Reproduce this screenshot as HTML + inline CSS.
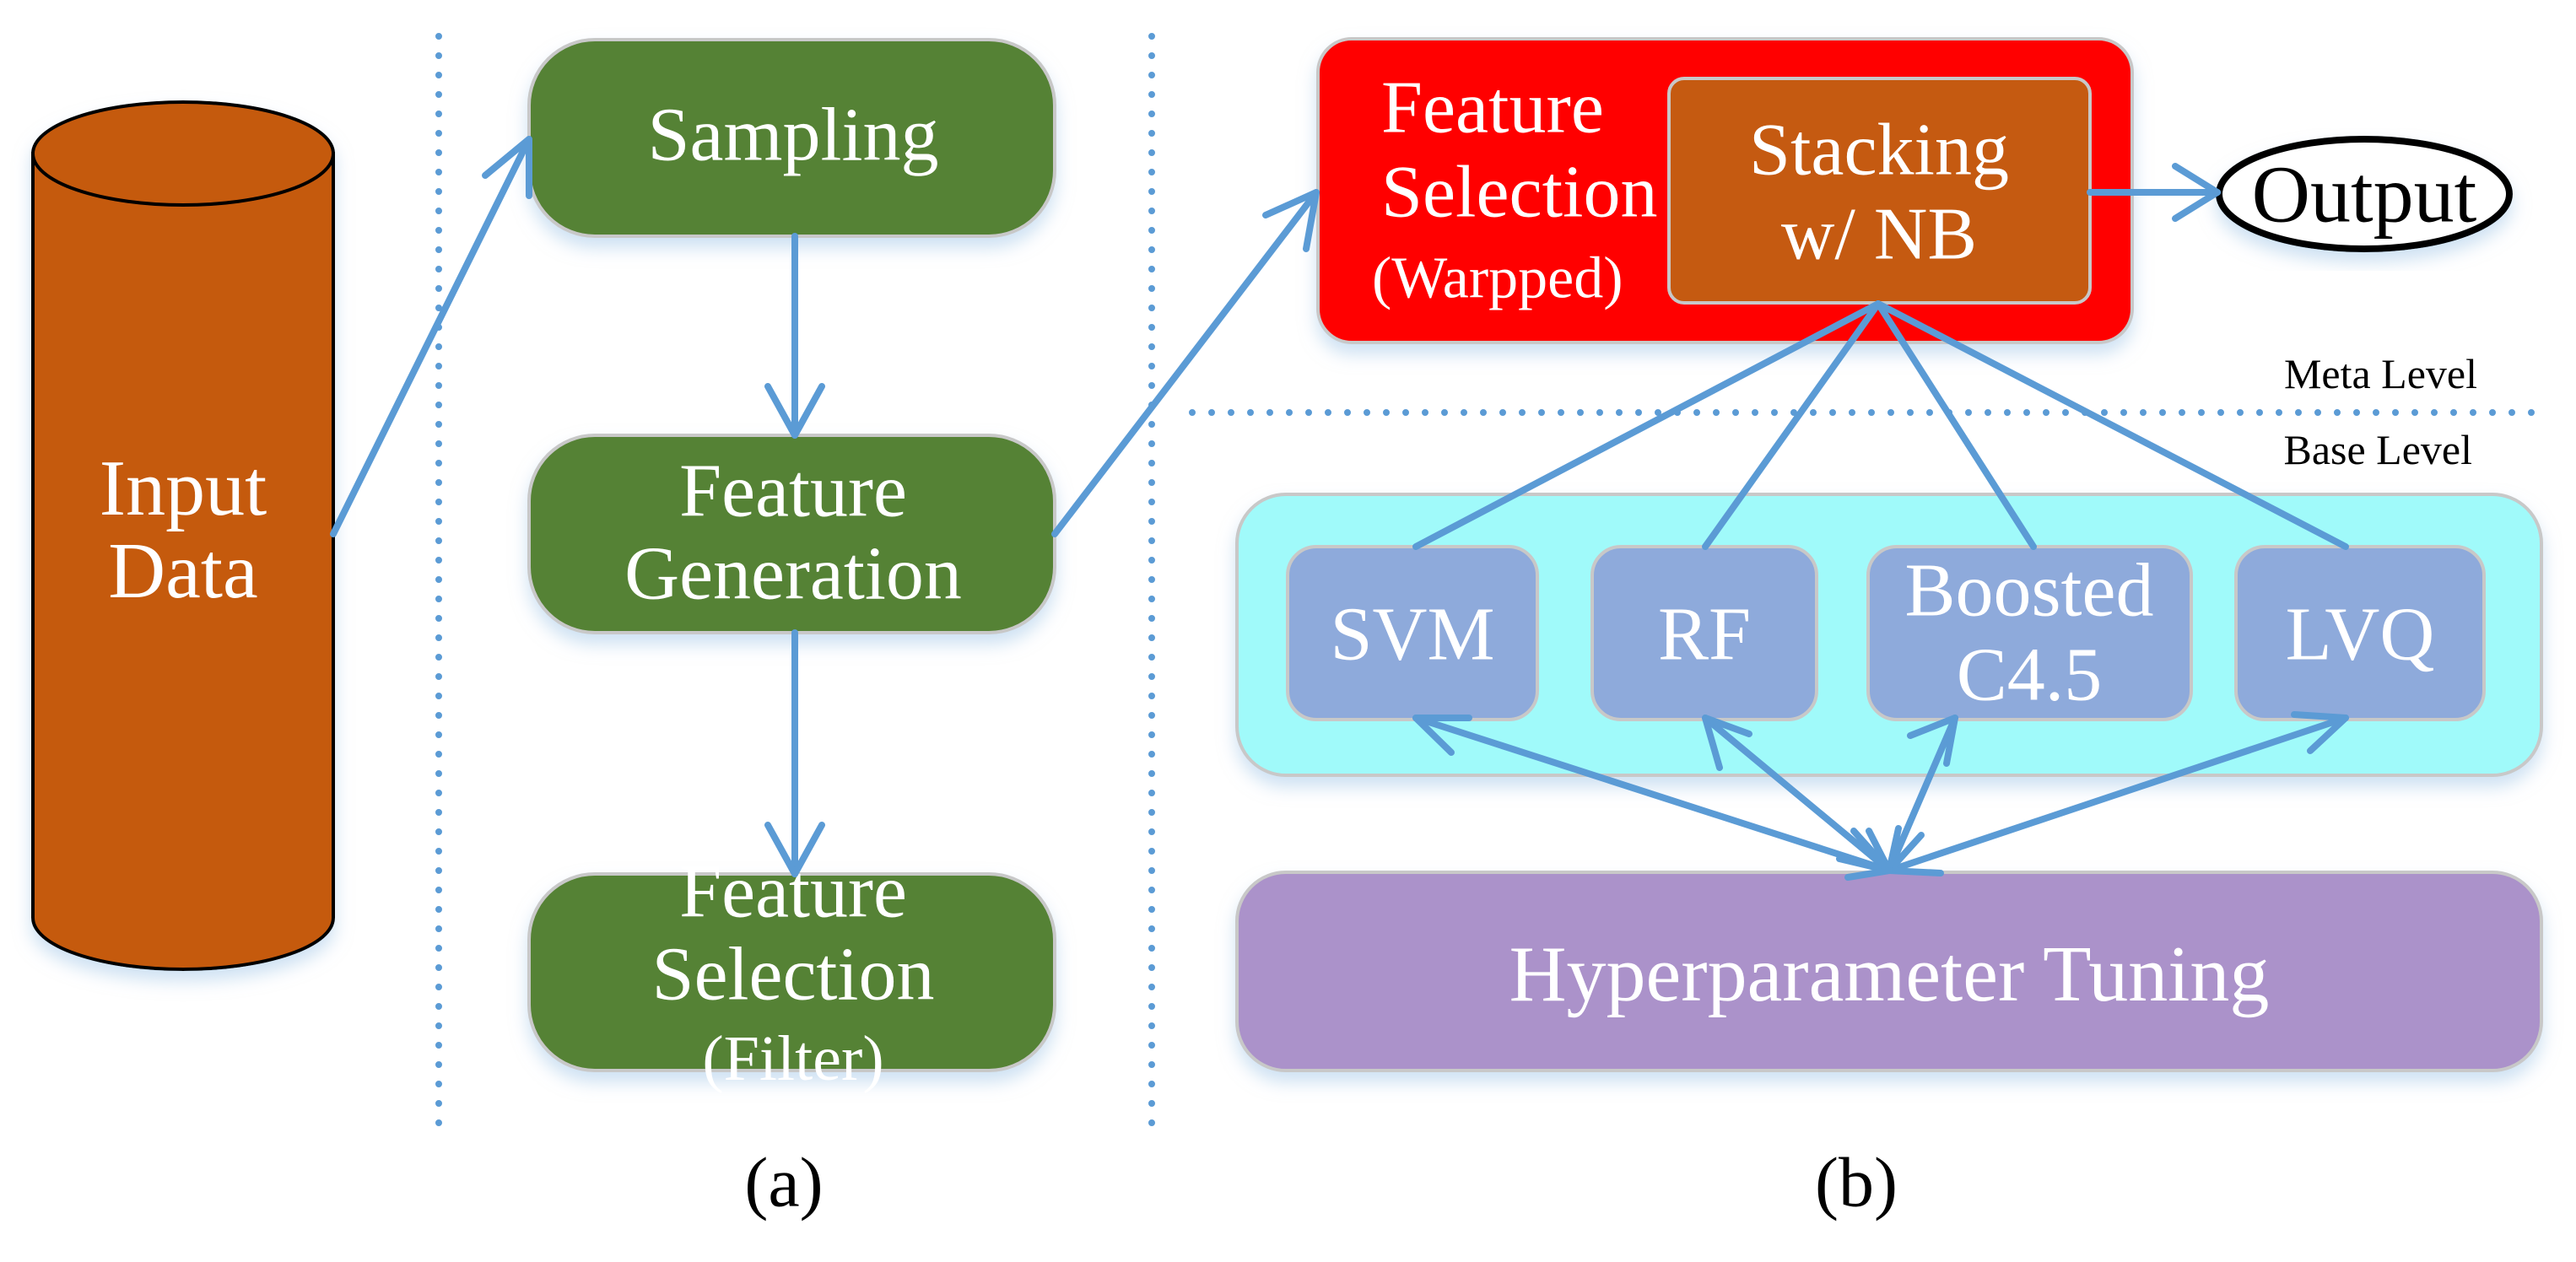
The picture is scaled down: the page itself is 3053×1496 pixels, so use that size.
<!DOCTYPE html>
<html><head><meta charset="utf-8"><style>
html,body{margin:0;padding:0;background:#fff;}
svg{display:block;}
text{font-family:"Liberation Serif",serif;}
</style></head><body>
<svg width="3053" height="1496" viewBox="0 0 3053 1496" xmlns="http://www.w3.org/2000/svg">
<defs>
<filter id="sh" x="-10%" y="-10%" width="120%" height="130%">
<feDropShadow dx="0" dy="12" stdDeviation="10" flood-color="#9dc3e6" flood-opacity="0.5"/>
</filter>
</defs>
<g stroke="#5b9bd5" stroke-width="8" stroke-linecap="round" stroke-dasharray="0 23" fill="none">
<line x1="520" y1="43" x2="520" y2="1334"/>
<line x1="1365" y1="43" x2="1365" y2="1334"/>
<line x1="1413" y1="489" x2="3014" y2="489"/>
</g>
<g filter="url(#sh)">
<path d="M39 182 L39 1088 A178 61 0 0 0 395 1088 L395 182 Z" fill="#c55a11" stroke="#000" stroke-width="4"/>
<ellipse cx="217" cy="182" rx="178" ry="61" fill="#c55a11" stroke="#000" stroke-width="4"/>
</g>
<text x="217" y="610" font-size="94" fill="#fff" text-anchor="middle">Input</text>
<text x="217" y="708" font-size="94" fill="#fff" text-anchor="middle">Data</text>
<g fill="#548235" stroke="#c8c8c8" stroke-width="4" filter="url(#sh)">
<rect x="627" y="47" width="623" height="233" rx="78"/>
<rect x="627" y="516" width="623" height="234" rx="78"/>
<rect x="627" y="1036" width="623" height="233" rx="78"/>
</g>
<g fill="#fff" font-size="90" text-anchor="middle" dominant-baseline="central">
<text x="940" y="160">Sampling</text>
<text x="940" y="582">Feature</text>
<text x="940" y="680">Generation</text>
<text x="940" y="1057">Feature</text>
<text x="940" y="1155">Selection</text>
<text x="940" y="1255" font-size="76">(Filter)</text>
</g>
<rect x="1562" y="46" width="965" height="360" rx="40" fill="#ff0000" stroke="#c8c8c8" stroke-width="4" filter="url(#sh)"/>
<rect x="1978" y="93" width="499" height="266" rx="18" fill="#c55a11" stroke="#c8c8c8" stroke-width="4"/>
<g fill="#fff" font-size="88" dominant-baseline="central">
<text x="1637" y="128">Feature</text>
<text x="1637" y="228">Selection</text>
<text x="1626" y="330" font-size="70">(Warpped)</text>
<text x="2227" y="178" text-anchor="middle">Stacking</text>
<text x="2227" y="278" text-anchor="middle">w/ NB</text>
</g>
<ellipse cx="2802" cy="230" rx="172" ry="65" fill="#fff" stroke="#000" stroke-width="8" filter="url(#sh)"/>
<text x="2802" y="230" font-size="96" text-anchor="middle" dominant-baseline="central" fill="#000">Output</text>
<text x="2936" y="460" font-size="50" text-anchor="end" fill="#000">Meta Level</text>
<text x="2930" y="550" font-size="50" text-anchor="end" fill="#000">Base Level</text>
<rect x="1466" y="586" width="1546" height="333" rx="58" fill="#a0fafa" stroke="#c8c8c8" stroke-width="4" filter="url(#sh)"/>
<g fill="#8eaadb" stroke="#c8c8c8" stroke-width="4">
<rect x="1526" y="648" width="296" height="205" rx="34"/>
<rect x="1887" y="648" width="266" height="205" rx="34"/>
<rect x="2214" y="648" width="383" height="205" rx="34"/>
<rect x="2650" y="648" width="294" height="205" rx="34"/>
</g>
<g fill="#fff" font-size="90" text-anchor="middle" dominant-baseline="central">
<text x="1674" y="752">SVM</text>
<text x="2020" y="752">RF</text>
<text x="2405" y="700">Boosted</text>
<text x="2405" y="800">C4.5</text>
<text x="2797" y="752">LVQ</text>
</g>
<rect x="1466" y="1034" width="1546" height="235" rx="58" fill="#ab92ca" stroke="#c8c8c8" stroke-width="4" filter="url(#sh)"/>
<text x="2239" y="1155" font-size="94" fill="#fff" text-anchor="middle" dominant-baseline="central">Hyperparameter Tuning</text>
<text x="929" y="1402" font-size="84" text-anchor="middle" dominant-baseline="central" fill="#000">(a)</text>
<text x="2200" y="1402" font-size="84" text-anchor="middle" dominant-baseline="central" fill="#000">(b)</text>
<g stroke="#5b9bd5" stroke-width="8" fill="none" stroke-linecap="round" stroke-linejoin="round">
<line x1="395" y1="633" x2="627" y2="165"/>
<polyline points="575,208 627,165 627,232"/>
<line x1="942" y1="280" x2="942" y2="516"/>
<polyline points="910,458 942,516 974,458"/>
<line x1="942" y1="750" x2="942" y2="1036"/>
<polyline points="910,978 942,1036 974,978"/>
<line x1="1250" y1="633" x2="1560" y2="228"/>
<polyline points="1500,255 1560,228 1548,295"/>
<line x1="2477" y1="228" x2="2628" y2="228"/>
<polyline points="2578,197 2628,228 2578,259"/>
<line x1="2226" y1="360" x2="1678" y2="648"/>
<line x1="2226" y1="360" x2="2021" y2="648"/>
<line x1="2226" y1="360" x2="2410" y2="648"/>
<line x1="2226" y1="360" x2="2780" y2="648"/>
<line x1="2239" y1="1032" x2="1678" y2="851"/>
<line x1="2239" y1="1032" x2="2021" y2="851"/>
<line x1="2239" y1="1032" x2="2317" y2="851"/>
<line x1="2239" y1="1032" x2="2780" y2="851"/>
<polyline points="1741,851 1678,851 1720,892"/>
<polyline points="2073,870 2021,851 2038,910"/>
<polyline points="2264,872 2317,851 2307,905"/>
<polyline points="2719,847 2780,851 2738,890"/>
<polyline points="2180,1018 2239,1032 2197,985"/>
<polyline points="2300,1035 2239,1032 2277,990"/>
<polyline points="2215,985 2239,1032 2250,982"/>
<polyline points="2190,1040 2239,1032"/>
</g>
</svg>
</body></html>
